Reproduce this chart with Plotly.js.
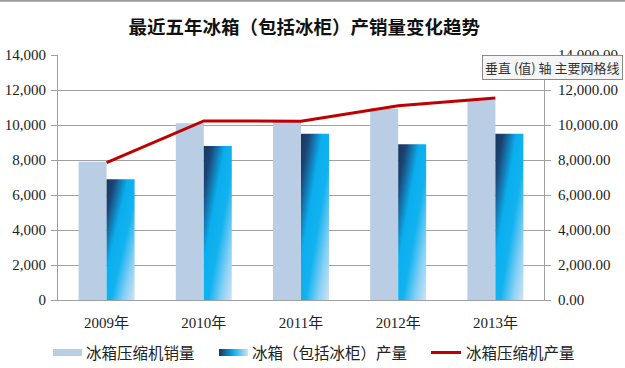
<!DOCTYPE html>
<html>
<head>
<meta charset="utf-8">
<script src="https://cdn.plot.ly/plotly-3.0.1.min.js"></script>
<style>
html,body{margin:0;padding:0;background:#fff;}
#chart{width:625px;height:368px;}
</style>
</head>
<body>
<div id="chart"></div>
<script>
const years = ['2009年', '2010年', '2011年', '2012年', '2013年'];
const compressorSales = [7900, 10100, 10200, 10950, 11450];
const fridgeOutput = [6900, 8800, 9500, 8900, 9500];
const compressorOutput = [7850, 10230, 10220, 11100, 11550];
const leftTicks = [0, 2000, 4000, 6000, 8000, 10000, 12000, 14000];

const serif = 'Liberation Serif, "Noto Sans CJK SC", serif';
const cjk = '"Noto Sans CJK SC", sans-serif';

const traces = [
  {
    type: 'bar', name: '冰箱压缩机销量', x: years, y: compressorSales,
    marker: {color: '#B9CDE5'}, hoverinfo: 'skip', legend: 'legend'
  },
  {
    type: 'bar', name: '冰箱（包括冰柜）产量', x: years, y: fridgeOutput,
    marker: {color: '#10AEEE'}, hoverinfo: 'skip', legend: 'legend2'
  },
  {
    type: 'scatter', mode: 'lines', name: '冰箱压缩机产量', x: years, y: compressorOutput,
    yaxis: 'y2', line: {color: '#C00000', width: 3}, hoverinfo: 'skip', legend: 'legend3'
  }
];

const axisGrey = '#A0A0A0';
const plotW = 486, plotL = 58;
function legendAt(px) {
  return {
    orientation: 'h', x: (px - plotL) / plotW, xanchor: 'left', y: -0.216, yanchor: 'middle',
    font: {family: cjk, size: 15.5, color: '#222'}, itemwidth: 30, bgcolor: 'rgba(0,0,0,0)'
  };
}
const layout = {
  width: 625, height: 368,
  margin: {l: 58, r: 81, t: 55, b: 68, autoexpand: false},
  paper_bgcolor: '#ffffff', plot_bgcolor: '#ffffff',
  showlegend: true,
  barmode: 'group', bargap: 0.424, bargroupgap: 0,
  title: {
    text: '最近五年冰箱（包括冰柜）产销量变化趋势',
    font: {family: cjk, size: 18.5, color: '#111', weight: 'bold'},
    x: 0.487, xanchor: 'center', y: 0.924, yanchor: 'middle', yref: 'container'
  },
  xaxis: {
    type: 'category', showgrid: false, showline: true, linecolor: axisGrey, linewidth: 1,
    ticks: '', tickfont: {family: serif, size: 15, color: '#222'}, ticklabelstandoff: 9,
    fixedrange: true
  },
  yaxis: {
    range: [0, 14000], tickvals: leftTicks, tickformat: ',d',
    showgrid: true, gridcolor: axisGrey, gridwidth: 1,
    showline: true, linecolor: axisGrey, linewidth: 1,
    ticks: 'outside', ticklen: 6, tickcolor: axisGrey,
    tickfont: {family: serif, size: 15, color: '#222'}, ticklabelstandoff: 2,
    zeroline: false, fixedrange: true
  },
  yaxis2: {
    overlaying: 'y', side: 'right', range: [0, 14000], tickvals: leftTicks, tickformat: ',.2f',
    showgrid: false, showline: true, linecolor: axisGrey, linewidth: 1,
    ticks: 'outside', ticklen: 6, tickcolor: axisGrey,
    tickfont: {family: serif, size: 15, color: '#222'}, ticklabelstandoff: 4,
    zeroline: false, fixedrange: true
  },
  legend: legendAt(46),
  legend2: legendAt(212),
  legend3: legendAt(426),
  shapes: [{
    type: 'line', xref: 'paper', yref: 'paper', x0: -58 / 486, x1: 567 / 486,
    y0: 299.2 / 245, y1: 299.2 / 245, line: {color: '#9A9A9A', width: 2}
  }],
  annotations: [{
    xref: 'paper', yref: 'paper', x: 0.872, y: 0.947, xanchor: 'left', yanchor: 'middle',
    text: '垂直 (值) 轴 主要网格线', showarrow: false,
    font: {family: cjk, size: 13, color: '#333'},
    bgcolor: '#F5F5F5', bordercolor: '#8A8A8A', borderwidth: 1, borderpad: 2
  }],
  hovermode: false
};

Plotly.newPlot('chart', traces, layout, {staticPlot: true, displayModeBar: false}).then(function (gd) {
  const svg = gd.querySelector('svg.main-svg');
  const ns = 'http://www.w3.org/2000/svg';
  let defs = svg.querySelector('defs');
  if (!defs) { defs = document.createElementNS(ns, 'defs'); svg.insertBefore(defs, svg.firstChild); }
  function grad(id, x2, y2, stops) {
    const g = document.createElementNS(ns, 'linearGradient');
    g.setAttribute('id', id);
    g.setAttribute('x1', '0'); g.setAttribute('y1', '0');
    g.setAttribute('x2', x2); g.setAttribute('y2', y2);
    stops.forEach(function (s) {
      const st = document.createElementNS(ns, 'stop');
      st.setAttribute('offset', s[0]); st.setAttribute('stop-color', s[1]);
      g.appendChild(st);
    });
    defs.appendChild(g);
  }
  const stops = [[0, '#17365D'], [0.14, '#1B4474'], [0.38, '#0AAEEE'], [0.58, '#12B2EF'], [0.8, '#86D0F4'], [1, '#D2E3F5']];
  grad('darkBarGrad', '1', '1', stops);
  grad('legendGrad', '1', '0', [[0, '#17365D'], [0.5, '#0AAEEE'], [1, '#D2E3F5']]);
  const barTraces = gd.querySelectorAll('.barlayer .trace');
  if (barTraces[1]) {
    barTraces[1].querySelectorAll('path').forEach(function (p) { p.style.fill = 'url(#darkBarGrad)'; });
  }
  ['g.legend', 'g.legend2'].forEach(function (sel, i) {
    const lg = gd.querySelector(sel);
    if (!lg) return;
    const p = lg.querySelector('.legendpoints path');
    if (!p) return;
    p.setAttribute('d', 'M-13,-3.5H16V3.5H-13Z');
    p.style.stroke = 'none';
    if (i === 1) p.style.fill = 'url(#legendGrad)';
  });
});
</script>
</body>
</html>
